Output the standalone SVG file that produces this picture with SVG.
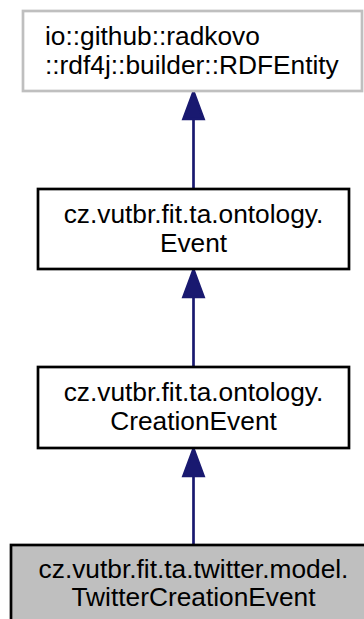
<svg xmlns="http://www.w3.org/2000/svg" width="364" height="619" viewBox="0 0 364 619">
<style>
.lbl{font-family:"Liberation Sans",Arial,sans-serif;font-size:26.3px;fill:#000}
.c{text-anchor:middle}
.box{fill:#fff;stroke:#000;stroke-width:2.7}
.edge{stroke:#191970;stroke-width:2.7;fill:none}
.head{fill:#191970;stroke:#191970;stroke-width:2.7}
</style>
<rect width="364" height="619" fill="#fff"/>
<g id="connectors">
<path class="edge" d="M193.5,119V189"/>
<polygon class="head" points="193.5,92 183.5,119 203.5,119"/>
<path class="edge" d="M193.5,297V367"/>
<polygon class="head" points="193.5,270 183.5,297 203.5,297"/>
<path class="edge" d="M193.5,476V545"/>
<polygon class="head" points="193.5,449 183.5,476 203.5,476"/>
</g>
<g id="node_rdfentity">
<rect class="box" x="23" y="11" width="339" height="80" style="stroke:#bfbfbf"/>
<text class="lbl" x="45" y="45">io::github::radkovo</text>
<text class="lbl" x="45" y="74">::rdf4j::builder::RDFEntity</text>
</g>
<g id="node_event">
<rect class="box" x="38" y="189" width="311" height="80"/>
<text class="lbl c" x="193.5" y="223">cz.vutbr.fit.ta.ontology.</text>
<text class="lbl c" x="193.5" y="252">Event</text>
</g>
<g id="node_creationevent">
<rect class="box" x="38" y="367" width="311" height="81"/>
<text class="lbl c" x="193.5" y="401">cz.vutbr.fit.ta.ontology.</text>
<text class="lbl c" x="193.5" y="430">CreationEvent</text>
</g>
<g id="node_twittercreationevent">
<rect class="box" x="11" y="545" width="365" height="80" style="fill:#bfbfbf"/>
<text class="lbl c" x="193.5" y="578">cz.vutbr.fit.ta.twitter.model.</text>
<text class="lbl c" x="193.5" y="606">TwitterCreationEvent</text>
</g>
</svg>
